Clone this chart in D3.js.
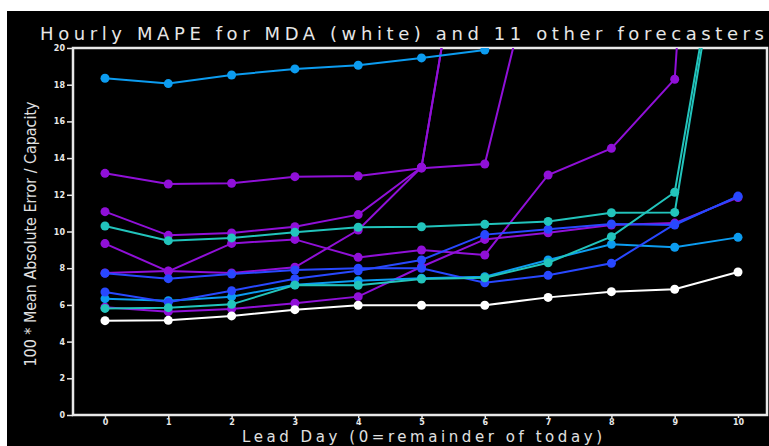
<!DOCTYPE html>
<html>
<head>
<meta charset="utf-8">
<script src="https://cdn.jsdelivr.net/npm/d3@7"></script>
<style>
  html, body { margin: 0; padding: 0; background: #fff; overflow: hidden; }
</style>
</head>
<body>
<svg width="769" height="446"></svg>
<script>
// lead days on the x axis
const leadDays = [0, 1, 2, 3, 4, 5, 6, 7, 8, 9, 10];
const yTicks = [0, 2, 4, 6, 8, 10, 12, 14, 16, 18, 20];

// MDA (white)
const mda = [5.14, 5.16, 5.40, 5.74, 5.98, 5.98, 5.98, 6.41, 6.72, 6.85, 7.79];

// purple forecasters (values above 20 run off the top of the chart)
const purple1 = [13.17, 12.59, 12.63, 12.99, 13.02, 13.45, 13.68, 27.8, null, null, null];
const purple2 = [11.08, 9.79, 9.92, 10.26, 10.92, 13.5, 34, null, null, null, null];
const purple3 = [9.34, 7.83, 9.35, 9.57, 8.59, 8.99, 8.72, 13.08, 14.53, 18.3, 70];
const purple4 = [7.74, 7.85, 7.74, 8.05, 10.08, 13.5, 34, null, null, null, null];
const purple5 = [5.87, 5.63, 5.78, 6.09, 6.45, 8.08, 9.57, 9.93, 10.35, 10.46, 11.85];

// light blue forecasters
const lightBlue1 = [18.35, 18.06, 18.53, 18.86, 19.06, 19.46, 19.89, null, null, null, null];
const lightBlue2 = [6.34, 6.23, 6.45, 7.10, 7.32, 7.45, 7.54, 8.45, 9.30, 9.14, 9.68];

// blue forecasters
const blue1 = [6.70, 6.15, 6.77, 7.43, 7.86, 8.45, 9.83, 10.12, 10.41, 10.35, 11.93];
const blue2 = [7.72, 7.43, 7.68, 7.90, 8.00, 8.00, 7.21, 7.61, 8.27, 10.40, 11.90];

// teal forecasters
const teal1 = [10.30, 9.50, 9.65, 9.96, 10.23, 10.26, 10.39, 10.55, 11.02, 11.04, 32];
const teal2 = [5.81, 5.85, 6.03, 7.08, 7.07, 7.41, 7.48, 8.30, 9.72, 12.14, 32];

const series = [
  {values: purple1, color: "#9010d8"},
  {values: purple2, color: "#9010d8"},
  {values: purple3, color: "#9010d8"},
  {values: purple4, color: "#9010d8"},
  {values: purple5, color: "#9010d8"},
  {values: lightBlue1, color: "#0c9cf0"},
  {values: lightBlue2, color: "#0c9cf0"},
  {values: blue1, color: "#2848ff"},
  {values: blue2, color: "#2848ff"},
  {values: teal1, color: "#22c4bc"},
  {values: teal2, color: "#22c4bc"},
  {values: mda, color: "#ffffff"}
];

const svg = d3.select("svg");
const width = +svg.attr("width");
const height = +svg.attr("height");

const frame = {left: 73, top: 48, right: 767, bottom: 415};

svg.append("rect")
  .attr("x", 7).attr("y", 11)
  .attr("width", width - 7).attr("height", height - 11)
  .attr("fill", "#000");

const xScale = d3.scaleLinear().domain([0, 10]).range([105, 738]);
const yScale = d3.scaleLinear().domain([0, 20]).range([frame.bottom, frame.top]);

svg.append("defs").append("clipPath").attr("id", "plotClip")
  .append("rect")
  .attr("x", frame.left).attr("y", frame.top)
  .attr("width", frame.right - frame.left)
  .attr("height", frame.bottom - frame.top);

// title
svg.append("text")
  .attr("x", 40).attr("y", 40)
  .attr("fill", "#e6e6e6")
  .style("font-family", "'DejaVu Sans', sans-serif")
  .style("font-size", "18px")
  .attr("textLength", 724)
  .attr("lengthAdjust", "spacing")
  .text("Hourly MAPE for MDA (white) and 11 other forecasters");

// axes
const yAxis = d3.axisLeft(yScale).tickValues(yTicks).tickSize(6).tickPadding(2)
  .tickFormat(d3.format("d"));
const xAxis = d3.axisBottom(xScale).tickValues(leadDays).tickSize(3).tickPadding(1)
  .tickFormat(d3.format("d"));

const gy = svg.append("g").attr("transform", `translate(${frame.left},0)`).call(yAxis);
const gx = svg.append("g").attr("transform", `translate(0,${frame.bottom})`).call(xAxis);

[gy, gx].forEach(g => {
  g.select(".domain").remove();
  g.selectAll(".tick line").attr("stroke", "#e8e8e8").attr("stroke-width", 1.5);
  g.selectAll(".tick text")
    .attr("fill", "#e8e8e8")
    .style("font-family", "'DejaVu Sans', sans-serif")
    .style("font-size", "8px")
    .style("font-weight", "bold");
});

// frame
svg.append("rect")
  .attr("x", frame.left).attr("y", frame.top)
  .attr("width", frame.right - frame.left)
  .attr("height", frame.bottom - frame.top)
  .attr("fill", "none")
  .attr("stroke", "#e8e8e8")
  .attr("stroke-width", 2.5);

// axis labels
svg.append("text")
  .attr("transform", "translate(36,234) rotate(-90)")
  .attr("text-anchor", "middle")
  .attr("fill", "#e0e0e0")
  .style("font-family", "'Liberation Sans Narrow', 'DejaVu Sans Condensed', sans-serif")
  .style("font-size", "15px")
  .attr("textLength", 265)
  .attr("lengthAdjust", "spacingAndGlyphs")
  .text("100 * Mean Absolute Error / Capacity");

svg.append("text")
  .attr("x", 242).attr("y", 442)
  .attr("fill", "#e0e0e0")
  .style("font-family", "'DejaVu Sans', sans-serif")
  .style("font-size", "15px")
  .attr("textLength", 360)
  .attr("lengthAdjust", "spacing")
  .text("Lead Day (0=remainder of today)");

// lines and markers
const plot = svg.append("g").attr("clip-path", "url(#plotClip)");

const line = d3.line()
  .defined(d => d != null)
  .x((d, i) => xScale(leadDays[i]))
  .y(d => yScale(d));

series.forEach(s => {
  plot.append("path")
    .datum(s.values)
    .attr("d", line)
    .attr("fill", "none")
    .attr("stroke", s.color)
    .attr("stroke-width", 2);

  plot.selectAll(null)
    .data(s.values.map((v, i) => ({day: leadDays[i], v: v})).filter(d => d.v != null && d.v <= 20.5))
    .enter().append("circle")
    .attr("cx", d => xScale(d.day))
    .attr("cy", d => yScale(d.v))
    .attr("r", 4.5)
    .attr("fill", s.color);
});
</script>
</body>
</html>
